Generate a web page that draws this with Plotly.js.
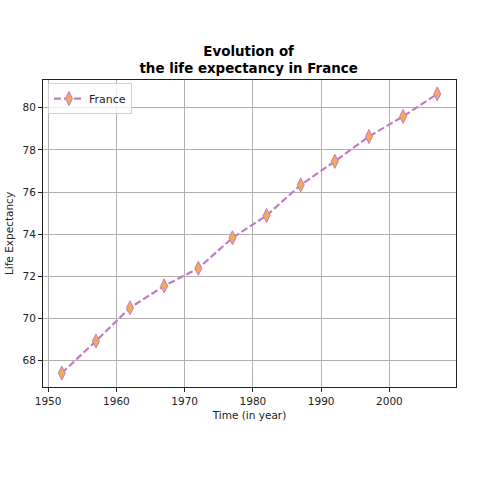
<!DOCTYPE html>
<html>
<head>
<meta charset="utf-8">
<script src="https://cdn.plot.ly/plotly-3.0.1.min.js"></script>
<style>body{margin:0;background:#fff}#chart{width:480px;height:480px}</style>
</head>
<body>
<div id="chart"></div>
<script>
var years = [1952, 1957, 1962, 1967, 1972, 1977, 1982, 1987, 1992, 1997, 2002, 2007];
var lifeExp = [67.41, 68.93, 70.51, 71.55, 72.38, 73.83, 74.89, 76.34, 77.46, 78.64, 79.59, 80.66];

var france = {
  x: years,
  y: lifeExp,
  name: 'France',
  type: 'scatter',
  mode: 'lines+markers',
  line: {color: '#c17dc1', width: 2.2, dash: '7px,3px'},
  marker: {symbol: 'diamond-tall', size: 10, color: '#f5aa5a', line: {color: '#c17dc1', width: 1}}
};

var font = {family: 'DejaVu Sans', size: 10.5, color: '#222'};
var layout = {
  width: 480, height: 480,
  margin: {l: 43, r: 24, t: 80, b: 93},
  paper_bgcolor: 'white', plot_bgcolor: 'white',
  font: font,
  showlegend: true,
  title: {
    text: '<b>Evolution of<br>the life expectancy in France</b>',
    font: {family: 'DejaVu Sans', size: 13.4, color: '#000'},
    x: 0.518, xanchor: 'center', y: 0.884, yanchor: 'top'
  },
  xaxis: {
    title: {text: 'Time (in year)', font: font, standoff: 6},
    range: [1949.25, 2009.75],
    tickvals: [1950, 1960, 1970, 1980, 1990, 2000],
    showgrid: true, gridcolor: '#b0b0b0', gridwidth: 1,
    zeroline: false,
    showline: true, linecolor: '#222', linewidth: 1, mirror: true,
    ticks: 'outside', ticklen: 4, tickcolor: '#222'
  },
  yaxis: {
    title: {text: 'Life Expectancy', font: font, standoff: 6},
    range: [66.75, 81.32],
    tickvals: [68, 70, 72, 74, 76, 78, 80],
    showgrid: true, gridcolor: '#b0b0b0', gridwidth: 1,
    zeroline: false,
    showline: true, linecolor: '#222', linewidth: 1, mirror: true,
    ticks: 'outside', ticklen: 4, tickcolor: '#222'
  },
  legend: {
    x: 0.012, y: 0.99, xanchor: 'left', yanchor: 'top',
    bgcolor: 'rgba(255,255,255,0.8)', bordercolor: '#d0d0d0', borderwidth: 1,
    font: {family: 'DejaVu Sans', size: 11, color: '#222'}
  }
};

Plotly.newPlot('chart', [france], layout, {displayModeBar: false});
</script>
</body>
</html>
